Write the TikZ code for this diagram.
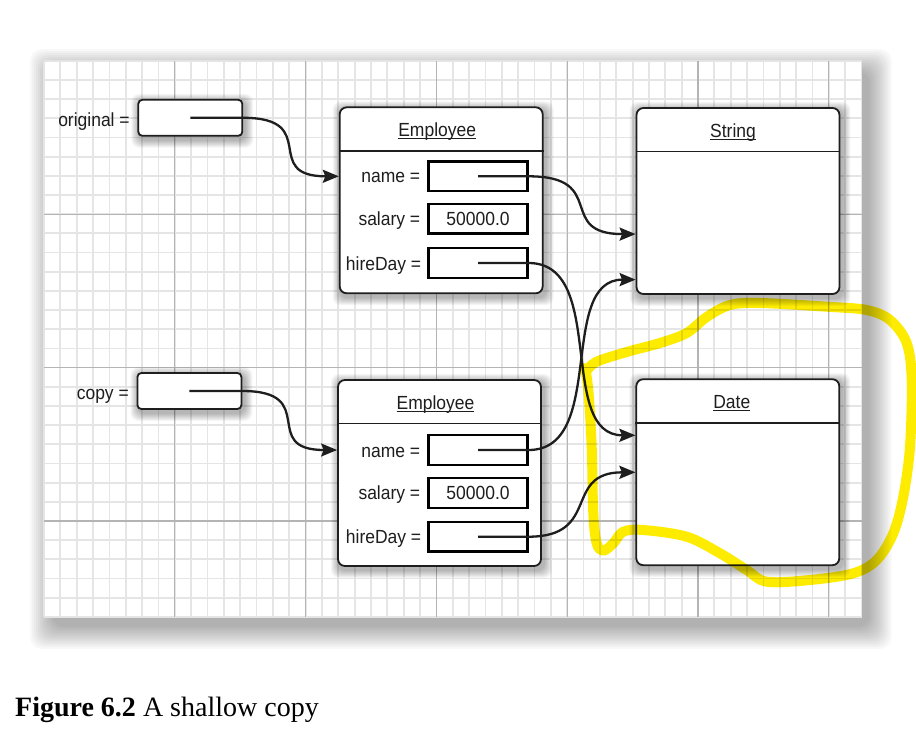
\documentclass[tikz,border=0pt]{standalone}
\usepackage{fontspec}
\setmainfont{Liberation Serif}
\newfontfamily\diagfont[FakeStretch=0.92]{Liberation Sans}
\usetikzlibrary{arrows.meta,calc}
\pgfdeclarelayer{gridlayer}
\pgfdeclarelayer{shadowlayer}
\pgfsetlayers{gridlayer,shadowlayer,main}
\definecolor{ink}{RGB}{30,30,30}
\definecolor{minorgrid}{RGB}{229,229,229}
\definecolor{majorgrid}{RGB}{180,180,180}
\definecolor{hl}{RGB}{253,236,0}
\newsavebox\ulbox
\newcommand\ulin[1]{\sbox\ulbox{#1}\rlap{\rule[-2.6pt]{\wd\ulbox}{1pt}}\usebox\ulbox}
\begin{document}
\begin{tikzpicture}[x=1pt,y=-1pt,
  dfont/.style={font=\diagfont\fontsize{19}{22}\selectfont, text=ink},
  varbox/.style={draw=ink, line width=1.8pt, fill=white, rounded corners=4pt,
    minimum width=104pt, minimum height=36pt, inner sep=0pt},
  objbox/.style={draw=ink, line width=1.8pt, fill=white, rounded corners=7pt,
    minimum width=203pt, minimum height=186pt, inner sep=0pt},
  field/.style={draw=black, line width=2.2pt, fill=white, minimum width=99pt,
    minimum height=29.5pt, inner sep=0pt, dfont},
  lab/.style={dfont, inner sep=0pt, anchor=base east},
  ttl/.style={dfont, inner sep=0pt, anchor=base},
  sepline/.style={draw=ink, line width=1.6pt},
  ptr/.style={draw=ink, line width=2.3pt, -{Stealth[length=16pt,width=13pt,inset=2.5pt]}},
  hilite/.style={draw=hl, line width=10pt, line cap=round, line join=round, blend mode=multiply}
]
\useasboundingbox (0,0) rectangle (916,742);

\begin{pgfonlayer}{gridlayer}
  \fill[white] (0,0) rectangle (916,742);
  % panel shadow
  \foreach \i in {0,...,11} {
    \pgfmathsetmacro\r{22-2*\i}
    \fill[black,opacity=0.028,rounded corners=12pt] ({52-\r},{71-\r}) rectangle ({869.5+\r},{627+\r});
  }
  \fill[white] (44,60.7) rectangle (861.5,617);
  \foreach \k in {0,...,50}
    \draw[minorgrid, line width=1.8pt] ({44+16.35*\k},60.7) -- ({44+16.35*\k},617);
  \foreach \j in {0,...,29}
    \draw[minorgrid, line width=1.8pt] (44,{60.7+19.18*\j}) -- (861.5,{60.7+19.18*\j});
  \foreach \k in {8,16,...,48}
    \draw[majorgrid, line width=1.2pt] ({44+16.35*\k},60.7) -- ({44+16.35*\k},617);
  \foreach \j in {8,16,24}
    \draw[majorgrid, line width=1.2pt] (44,{60.7+19.18*\j}) -- (861.5,{60.7+19.18*\j});
\end{pgfonlayer}

% variable boxes
\node[varbox] (orig) at (190.3,117.8) {};
\node[varbox] (copy) at (189.4,391) {};
\node[lab] (origlab) at ($(orig.west)+(-7.5,8.2)$) {original =};
\node[lab] (copylab) at ($(copy.west)+(-7.5,8.2)$) {copy =};

% object boxes
\node[objbox] (emp1) at (441.2,200.3) {};
\node[objbox] (emp2) at (439.5,473) {};
\node[objbox] (str) at (738,201) {};
\node[objbox] (date) at (737.8,472.2) {};

\foreach \b in {emp1,emp2,str,date}
  \draw[sepline] ($(\b.north west)+(0,44.4)$) -- ($(\b.north east)+(0,44.4)$);

\node[ttl] (t1) at ($(emp1.north)+(-4,30.4)$) {\ulin{Employee}};
\node[ttl] (t2) at ($(emp2.north)+(-4,30.4)$) {\ulin{Employee}};
\node[ttl] (t3) at ($(str.north)+(-5,30.4)$) {\ulin{String}};
\node[ttl] (t4) at ($(date.north)+(-6,30.4)$) {\ulin{Date}};

% fields
\node[field] (name1) at (478,176.3) {};
\node[field] (sal1) at (478,218.8) {50000.0};
\node[field] (hire1) at (478,263) {};
\node[field] (name2) at (478,450) {};
\node[field] (sal2) at (478,493) {50000.0};
\node[field] (hire2) at (478,536.7) {};

\node[lab] at ($(name1.west)+(-7,6.6)$) {name =};
\node[lab] at ($(sal1.west)+(-7,7)$) {salary =};
\node[lab] at ($(hire1.west)+(-6,7)$) {hireDay =};
\node[lab] at ($(name2.west)+(-7,7)$) {name =};
\node[lab] at ($(sal2.west)+(-7,6.5)$) {salary =};
\node[lab] at ($(hire2.west)+(-6,6.8)$) {hireDay =};

% shadows of boxes
\begin{pgfonlayer}{shadowlayer}
  \foreach \n in {orig,copy,emp1,emp2,str,date} {
    \foreach \i in {0,...,7} {
      \pgfmathsetmacro\r{8-\i}
      \fill[black,opacity=0.04,rounded corners=8pt]
        ($(\n.north west)+({2-\r},{3-\r})$) rectangle ($(\n.south east)+({2+\r},{3+\r})$);
    }
  }
\end{pgfonlayer}

% pointers
\draw[ptr] (orig.center) -- (orig.east) to[out=0,in=180,looseness=1.8] (emp1.west |- name1.center);
\draw[ptr] (copy.center) -- (copy.east) to[out=0,in=180,looseness=1.8] (emp2.west |- name2.center);
\draw[ptr] (name1.center) -- (name1.east) to[out=0,in=180,looseness=1.7] ($(str.north west)+(0,127)$);
\draw[ptr] (hire1.center) -- (hire1.east) to[out=0,in=180,looseness=1] ($(date.north west)+(0,57)$);
\draw[ptr] (name2.center) -- (name2.east) to[out=0,in=180,looseness=1] ($(str.north west)+(0,172.5)$);
\draw[ptr] (hire2.center) -- (hire2.east) to[out=0,in=180,looseness=1.5] ($(date.north west)+(0,94)$);

% yellow hand-drawn highlight
\draw[hilite] plot[smooth, tension=0.55] coordinates {
  (586,372) (596,362) (626.7,352) (660,343) (686.7,333) (706.7,317) (730,305)
  (760,303) (826.7,306.7) (866.7,310) (890,320) (906.7,343) (911.7,380)
  (910,446.7) (903.3,496.7) (893.3,533.3) (876.7,560) (853.3,573.3) (810,580)
  (766.7,581.7) (746.7,570) (720,553.3) (686.7,536.7) (643.3,530) (623.3,531.7)
  (613.3,543.3) (603.3,550.7) (596.7,543.3) (593.3,513.3) (591.7,446.7)
  (588.3,390) (585,368)};

% caption
\node[anchor=base west, inner sep=0pt, font=\fontsize{28}{32}\selectfont] (cap) at (15,716.7)
  {\textbf{Figure 6.2} A shallow copy};
\end{tikzpicture}
\end{document}
